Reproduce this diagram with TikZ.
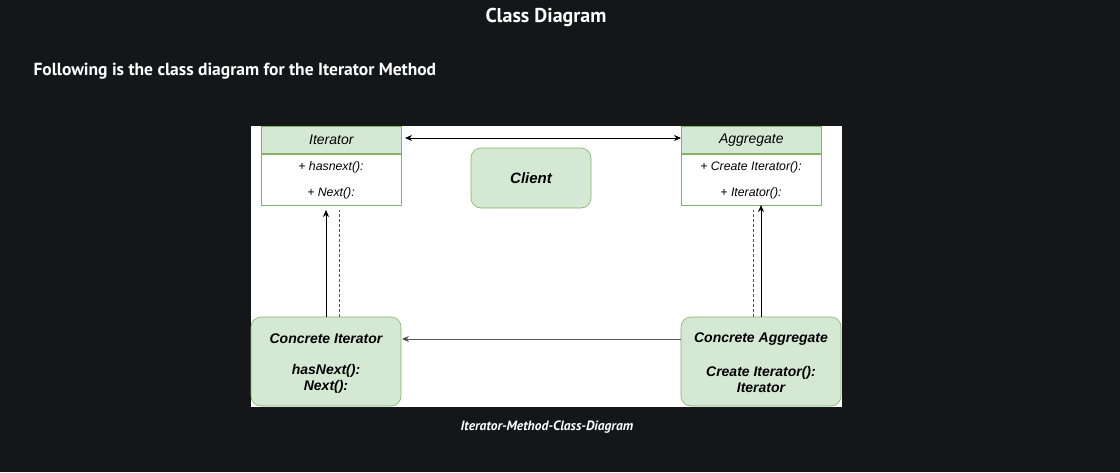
\documentclass[tikz,border=0pt]{standalone}
\usepackage{fontspec}
\setmainfont{Liberation Sans}
\newfontfamily\headfont{PT Sans}
\usetikzlibrary{arrows.meta}
\definecolor{bgdark}{HTML}{15161A}
\definecolor{gfill}{HTML}{D5E8D4}
\definecolor{gline}{HTML}{82B366}
\definecolor{lgrey}{HTML}{555555}
\begin{document}
\begin{tikzpicture}[x=1pt,y=-1pt,
  classhead/.style={draw=gline,fill=gfill,line width=0.6pt,minimum width=140pt,minimum height=27pt,inner sep=0pt,font=\itshape\fontsize{14}{16}\selectfont},
  classbody/.style={draw=gline,fill=white,line width=0.6pt,minimum width=140pt,minimum height=51pt,inner sep=0pt},
  member/.style={font=\itshape\fontsize{12.3}{14}\selectfont,inner sep=0pt},
  roundbox/.style={draw=gline,fill=gfill,line width=0.6pt,rounded corners=10pt,inner sep=0pt,align=center,font=\bfseries\itshape\fontsize{15}{17}\selectfont},
  boldtxt/.style={font=\bfseries\itshape\fontsize{14}{16}\selectfont,inner sep=0pt,align=center},
  arr/.style={-{Stealth[length=7pt,width=6pt]},line width=0.8pt},
  dsh/.style={dashed,dash pattern=on 3pt off 2pt,draw=lgrey,line width=0.8pt}]
\useasboundingbox (0,0) rectangle (1120,472);
\fill[bgdark] (0,0) rectangle (1120,472);
\fill[white] (251,126) rectangle (842,407);
% titles
\node[text=white,font=\headfont\bfseries\fontsize{20}{24}\selectfont] (title) at (546,17) {Class Diagram};
\node[text=white,anchor=west,font=\headfont\bfseries\fontsize{17.5}{20}\selectfont] (intro) at (30,71) {Following is the class diagram for the Iterator Method};
\node[text=white,font=\headfont\bfseries\itshape\fontsize{13.5}{15}\selectfont] (caption) at (547,427) {Iterator-Method-Class-Diagram};
% Iterator class
\node[classhead,anchor=north west] (ith) at (261,126) {Iterator};
\node[classbody,anchor=north] (itb) at (ith.south) {};
\node[member] (it1) at (331,167) {+ hasnext():};
\node[member] (it2) at (331,193) {+ Next():};
% Aggregate class
\node[classhead,anchor=north west] (agh) at (681,126) {Aggregate};
\node[classbody,anchor=north] (agb) at (agh.south) {};
\node[member] (ag1) at (751,167) {+ Create Iterator():};
\node[member] (ag2) at (751,193) {+ Iterator():};
% Client
\node[roundbox,minimum width=120pt,minimum height=60pt] (client) at (531,178) {Client};
% Concrete boxes
\node[roundbox,minimum width=150pt,minimum height=89pt] (ci) at (326,361.5) {};
\node[boldtxt] (cit) at (326,339) {Concrete Iterator};
\node[boldtxt] (cim) at (326,379) {hasNext():\\Next():};
\node[roundbox,minimum width=160pt,minimum height=89pt] (ca) at (761,361.5) {};
\node[boldtxt] (cat) at (761,339) {Concrete Aggregate};
\node[boldtxt] (cam) at (761,379) {Create Iterator():\\Iterator};
% connectors
\coordinate (a1) at (405,138);
\coordinate (a2) at (681,138);
\draw[{Stealth[length=7pt,width=6pt]}-{Stealth[length=7pt,width=6pt]},line width=0.8pt] (a1) -- (a2);
\coordinate (l1s) at (326,317);
\coordinate (l1e) at (326,210);
\draw[arr] (l1s) -- (l1e);
\coordinate (l2s) at (339,317);
\coordinate (l2e) at (339,210);
\draw[dsh] (l2s) -- (l2e);
\coordinate (r1s) at (753,317);
\coordinate (r1e) at (753,210);
\draw[dsh] (r1s) -- (r1e);
\coordinate (r2s) at (761,317);
\coordinate (r2e) at (761,205);
\draw[arr] (r2s) -- (r2e);
\coordinate (h1) at (402,339);
\draw[arr,draw=lgrey,-{Stealth[length=7pt,width=6pt,fill=black]}] (ca.west |- h1) -- (h1);
\end{tikzpicture}
\end{document}
